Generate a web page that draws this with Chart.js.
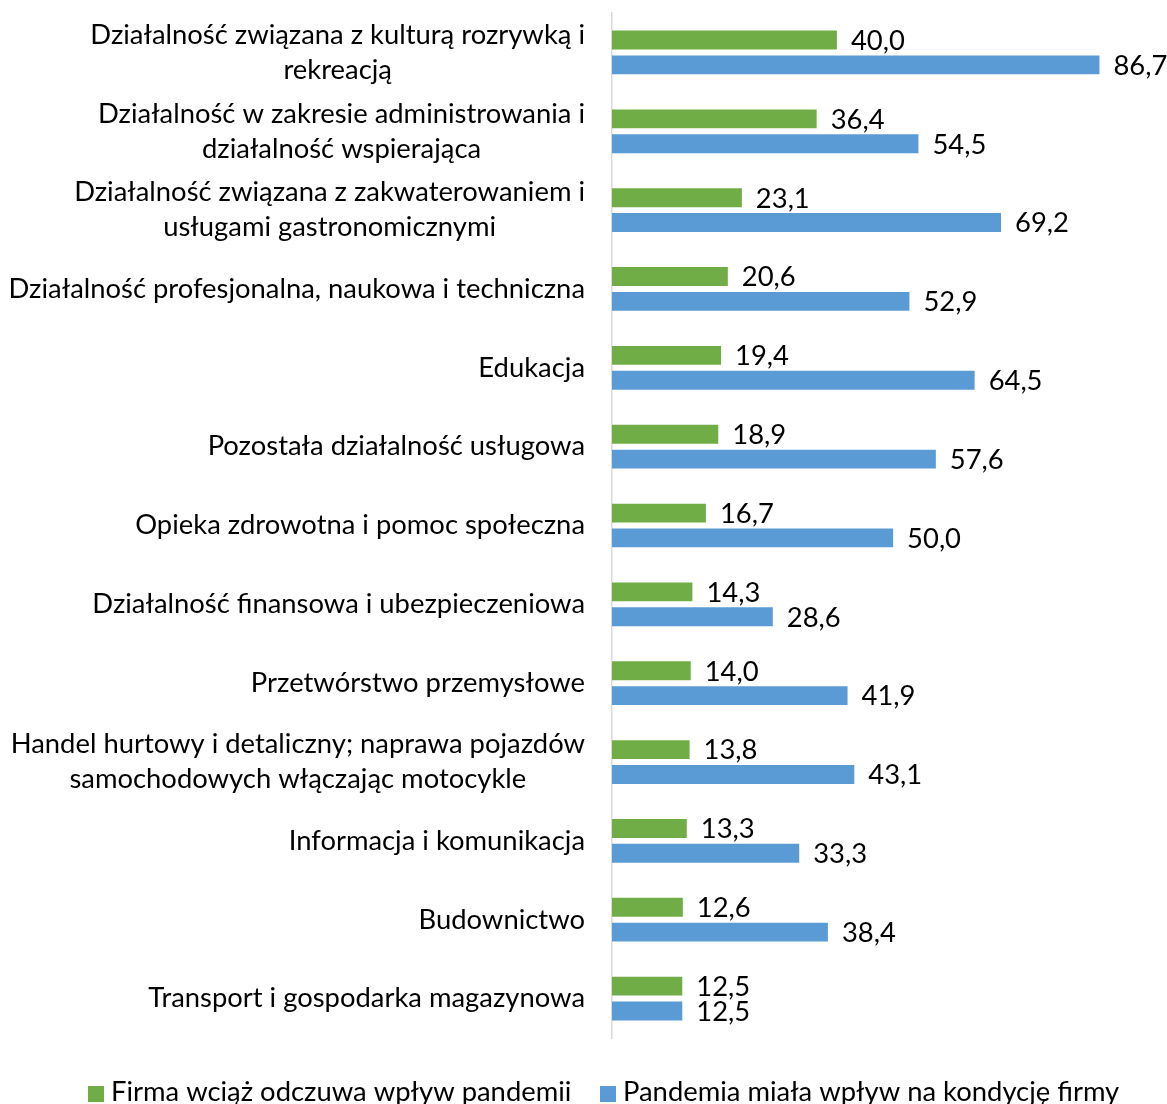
<!DOCTYPE html>
<html>
<head>
<meta charset="utf-8">
<script src="https://cdn.jsdelivr.net/npm/chart.js@4.4.1/dist/chart.umd.min.js"></script>
<style>
  html, body { margin: 0; padding: 0; background: #fff; overflow: hidden; }
  canvas { display: block; }
</style>
</head>
<body>
<canvas id="chart" width="1167" height="1104"></canvas>
<script>
const categories = [
  ['Działalność związana z kulturą rozrywką i', 'rekreacją'],
  ['Działalność w zakresie administrowania i', 'działalność wspierająca'],
  ['Działalność związana z zakwaterowaniem i', 'usługami gastronomicznymi'],
  ['Działalność profesjonalna, naukowa i techniczna'],
  ['Edukacja'],
  ['Pozostała działalność usługowa'],
  ['Opieka zdrowotna i pomoc społeczna'],
  ['Działalność finansowa i ubezpieczeniowa'],
  ['Przetwórstwo przemysłowe'],
  ['Handel hurtowy i detaliczny; naprawa pojazdów', 'samochodowych włączając motocykle'],
  ['Informacja i komunikacja'],
  ['Budownictwo'],
  ['Transport i gospodarka magazynowa']
];
const stillFeels = [40.0, 36.4, 23.1, 20.6, 19.4, 18.9, 16.7, 14.3, 14.0, 13.8, 13.3, 12.6, 12.5];
const hadImpact = [86.7, 54.5, 69.2, 52.9, 64.5, 57.6, 50.0, 28.6, 41.9, 43.1, 33.3, 38.4, 12.5];
const seriesNames = ['Firma wciąż odczuwa wpływ pandemii', 'Pandemia miała wpływ na kondycję firmy'];

const FONT = '27.4px Lato, "Open Sans", sans-serif';
const GREEN = '#70ad47';
const BLUE = '#5b9bd5';

// category labels: block right-aligned, lines centred on each other
const categoryLabels = {
  id: 'categoryLabels',
  afterDraw(chart) {
    const ctx = chart.ctx;
    const y = chart.scales.y;
    const right = chart.chartArea.left - 27;
    ctx.save();
    ctx.font = FONT;
    ctx.fillStyle = '#000';
    ctx.textAlign = 'center';
    ctx.textBaseline = 'middle';
    categories.forEach((lines, i) => {
      const cy = y.getPixelForValue(i);
      const w = Math.max(...lines.map(l => ctx.measureText(l).width));
      const cx = right - w / 2;
      const lh = 35;
      const top = cy - (lines.length - 1) * lh / 2;
      lines.forEach((l, j) => ctx.fillText(l, cx, top + j * lh));
    });
    ctx.restore();
  }
};

// value labels at the end of each bar
const valueLabels = {
  id: 'valueLabels',
  afterDatasetsDraw(chart) {
    const ctx = chart.ctx;
    ctx.save();
    ctx.font = FONT;
    ctx.fillStyle = '#000';
    ctx.textAlign = 'left';
    ctx.textBaseline = 'middle';
    chart.data.datasets.forEach((ds, di) => {
      chart.getDatasetMeta(di).data.forEach((bar, i) => {
        ctx.fillText(ds.data[i].toFixed(1).replace('.', ','), bar.x + 14, bar.y + 1);
      });
    });
    ctx.restore();
  }
};

// legend under the plot
const bottomLegend = {
  id: 'bottomLegend',
  afterDraw(chart) {
    const ctx = chart.ctx;
    ctx.save();
    ctx.font = FONT;
    ctx.textBaseline = 'alphabetic';
    const starts = [88, 600];
    const base = 1101;
    [GREEN, BLUE].forEach((c, i) => {
      ctx.fillStyle = c;
      ctx.fillRect(starts[i], 1086, 16, 16);
      ctx.fillStyle = '#000';
      ctx.fillText(seriesNames[i], starts[i] + 23, base);
    });
    ctx.restore();
  }
};

new Chart(document.getElementById('chart'), {
  type: 'bar',
  data: {
    labels: categories.map(l => l.join(' ')),
    datasets: [
      { label: seriesNames[0], data: stillFeels, backgroundColor: GREEN },
      { label: seriesNames[1], data: hadImpact, backgroundColor: BLUE }
    ]
  },
  options: {
    indexAxis: 'y',
    responsive: false,
    animation: false,
    categoryPercentage: 0.63,
    barPercentage: 0.76,
    layout: { padding: { top: 13, right: 49, bottom: 66, left: 0 } },
    scales: {
      x: { display: false, min: 0, max: 90 },
      y: {
        ticks: { display: false },
        grid: { display: false },
        border: { color: '#d9d9d9', width: 1.5 },
        afterFit(scale) { scale.width = 612; }
      }
    },
    plugins: {
      legend: { display: false },
      tooltip: { enabled: false }
    }
  },
  plugins: [categoryLabels, valueLabels, bottomLegend]
});
</script>
</body>
</html>
